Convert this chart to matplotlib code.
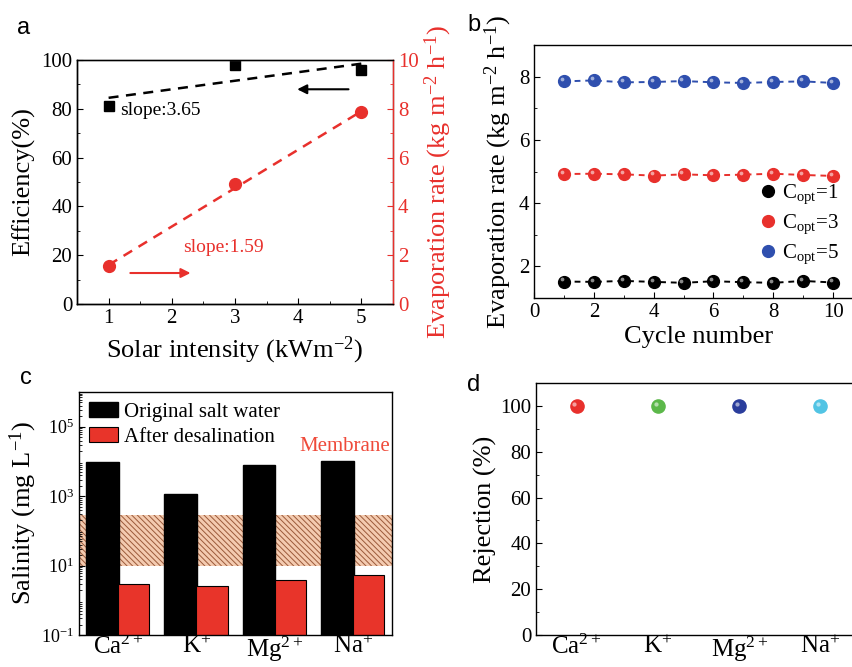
import matplotlib
matplotlib.use("Agg")
import matplotlib.pyplot as plt
import matplotlib.transforms as mtransforms
from matplotlib.lines import Line2D
import numpy as np

plt.rcParams.update({
    "font.family": ["Liberation Serif", "DejaVu Serif"],
    "mathtext.fontset": "custom",
    "mathtext.rm": "Liberation Serif",
    "mathtext.it": "Liberation Serif:italic",
    "mathtext.bf": "Liberation Serif:bold",
    "xtick.direction": "in", "ytick.direction": "in",
    "axes.linewidth": 1.0,
    "hatch.linewidth": 0.7,
})

# ---------------- data
solar = [1, 3, 5]
efficiency = [81, 98, 96]
evap = [1.55, 4.9, 7.85]
eff_fit = [84.5, 98.5]           # dashed fit ends, slope 3.65
evap_fit = [1.6, 7.9]            # dashed fit ends, slope 1.59

cycles = list(range(1, 11))
evap_c1 = [1.52, 1.51, 1.54, 1.51, 1.48, 1.53, 1.50, 1.48, 1.54, 1.49]
evap_c3 = [4.92, 4.93, 4.91, 4.87, 4.91, 4.88, 4.90, 4.93, 4.89, 4.86]
evap_c5 = [7.85, 7.88, 7.82, 7.83, 7.86, 7.82, 7.80, 7.83, 7.85, 7.80]

ions = ["Ca$^{2+}$", "K$^{+}$", "Mg$^{2+}$", "Na$^{+}$"]
original = [9800, 1150, 8000, 10500]
desalinated = [3.0, 2.5, 3.9, 5.5]
membrane_band = [10, 280]

rejection = [100, 100, 100, 100]
ion_colors = ["#e8302c", "#5cb84a", "#2a3d9c", "#52c4e4"]

RED = "#e8302c"
W, H = 853, 667
fig = plt.figure(figsize=(W / 100, H / 100), dpi=100)


def px_axes(left, right, top, bottom):
    return fig.add_axes([left / W, 1 - bottom / H, (right - left) / W, (bottom - top) / H])


def sphere(ax, x, y, color, ms, zorder=3):
    ax.plot(x, y, "o", color=color, ms=ms, mec=color, zorder=zorder, linestyle="none")
    tr = mtransforms.offset_copy(ax.transData, fig=fig, x=-ms * 0.18, y=ms * 0.18, units="points")
    ax.plot(x, y, "o", color="white", alpha=0.55, ms=ms * 0.32, mew=0, transform=tr,
            zorder=zorder + 1, linestyle="none")


def panel_label(x, y, s):
    fig.text(x / W, 1 - y / H, s, family="Liberation Sans", fontsize=17, va="center", ha="left")


# ---------------- (a)
ax = px_axes(77, 393, 60, 304)
for sp in ax.spines.values():
    sp.set_color("#555555")
ax.spines["left"].set_color("black"); ax.spines["bottom"].set_color("black")
ax.plot([1, 5], eff_fit, "--", color="black", lw=1.8, dashes=(4, 3))
ax.plot(solar, efficiency, "s", color="black", ms=7.5)
ax.set_xlim(0.5, 5.5); ax.set_ylim(0, 100)
ax.set_xticks([1, 2, 3, 4, 5]); ax.set_xticks(np.arange(1.5, 5.5, 1), minor=True)
ax.set_yticks(range(0, 101, 20)); ax.set_yticks(range(10, 100, 20), minor=True)
ax.tick_params(labelsize=15, length=4, top=False, right=False)
ax.tick_params(which="minor", length=2.5)
ax.set_ylabel("Efficiency(%)", fontsize=19, labelpad=4)
ax.set_xlabel("Solar intensity (kWm$^{-2}$)", fontsize=19, labelpad=5)
ax.annotate("", xy=(3.94, 88), xytext=(4.84, 88),
            arrowprops=dict(arrowstyle="-|>", color="black", lw=1.5, mutation_scale=14))
ax.text(1.18, 79.5, "slope:3.65", fontsize=14, va="center")
ax.text(2.18, 23, "slope:1.59", fontsize=14, va="center", color=RED)

ax2 = ax.twinx()
ax2.plot([1, 5], evap_fit, "--", color=RED, lw=1.8, dashes=(4, 3))
ax2.plot(solar, evap, "o", color=RED, ms=8.5)
ax2.set_ylim(0, 10)
ax2.set_yticks(range(0, 11, 2)); ax2.set_yticks(range(1, 10, 2), minor=True)
ax2.spines["right"].set_color(RED)
ax2.tick_params(axis="y", colors=RED, labelsize=15, length=4, direction="in")
ax2.tick_params(axis="y", which="minor", length=2.5, direction="in", colors=RED)
ax2.set_ylabel("Evaporation rate (kg m$^{-2}$ h$^{-1}$)", fontsize=19, color=RED, labelpad=3)
ax.annotate("", xy=(2.34, 12.7), xytext=(1.3, 12.7),
            arrowprops=dict(arrowstyle="-|>", color=RED, lw=1.5, mutation_scale=14))
panel_label(17, 28, "a")

# ---------------- (b)
ax = px_axes(534, 863, 45, 298)
for vals, col in ((evap_c1, "black"), (evap_c3, RED), (evap_c5, "#2f4fae")):
    ax.plot(cycles, vals, "--", color=col, lw=1.4, dashes=(3, 2.5), zorder=2)
    sphere(ax, cycles, vals, col, 8.5)
ax.set_xlim(0, 11); ax.set_ylim(1, 9)
ax.set_xticks(range(0, 11, 2)); ax.set_xticks(range(1, 11, 2), minor=True)
ax.set_yticks([2, 4, 6, 8]); ax.set_yticks([3, 5, 7], minor=True)
ax.tick_params(labelsize=15, length=4)
ax.tick_params(which="minor", length=2.5)
ax.set_xlabel("Cycle number", fontsize=19, labelpad=3)
ax.set_ylabel("Evaporation rate (kg m$^{-2}$ h$^{-1}$)", fontsize=19, labelpad=3)
handles = [Line2D([], [], marker="o", ls="none", color=c, ms=8.5)
           for c in ("black", RED, "#2f4fae")]
ax.legend(handles, ["C$_{\\rm opt}$=1", "C$_{\\rm opt}$=3", "C$_{\\rm opt}$=5"],
          loc="upper left", bbox_to_anchor=(0.675, 0.455), frameon=False, fontsize=15,
          handletextpad=0.15, labelspacing=0.3, borderpad=0, borderaxespad=0,
          handlelength=1.1)
panel_label(467, 25, "b")

# ---------------- (c)
ax = px_axes(79, 392, 392, 635)
x = np.arange(1, 5)
ax.fill_between([0.5, 4.5], membrane_band[0], membrane_band[1], facecolor="#f4cbb0",
                edgecolor="#9b5a3a", hatch="\\" * 6, lw=0, zorder=1)
ax.bar(x - 0.2, original, 0.42, color="black", edgecolor="black", zorder=2,
       label="Original salt water")
ax.bar(x + 0.2, desalinated, 0.4, color="#e8342a", edgecolor="black", lw=0.8, zorder=2,
       label="After desalination")
ax.set_yscale("log")
ax.set_ylim(0.1, 1e6); ax.set_xlim(0.5, 4.5)
ax.set_yticks([1e-1, 1e1, 1e3, 1e5])
ax.set_yticklabels(["10$^{-1}$", "10$^{1}$", "10$^{3}$", "10$^{5}$"])
ax.set_xticks(x); ax.set_xticklabels(ions)
ax.tick_params(axis="x", labelsize=18, length=0, pad=0)
ax.tick_params(axis="y", labelsize=13, length=4)
ax.tick_params(axis="y", which="minor", length=2)
ax.set_ylabel("Salinity (mg L$^{-1}$)", fontsize=19, labelpad=2)
ax.text(3.9, 10 ** 4.42, "Membrane", color="#ef4a3a", fontsize=15, ha="center", va="center")
ax.legend(loc="upper left", frameon=False, fontsize=15, handlelength=1.35, handleheight=0.7,
          handletextpad=0.3, labelspacing=0.25, borderaxespad=0.2, borderpad=0.3)
panel_label(20, 378, "c")

# ---------------- (d)
ax = px_axes(536, 861, 383, 635)
for xi, r, c in zip(x, rejection, ion_colors):
    sphere(ax, [xi], [r], c, 9.5)
ax.set_xlim(0.5, 4.5); ax.set_ylim(0, 110)
ax.set_yticks(range(0, 101, 20)); ax.set_yticks(range(10, 101, 20), minor=True)
ax.set_xticks(x); ax.set_xticklabels(ions)
ax.tick_params(axis="x", labelsize=18, length=0, pad=0)
ax.tick_params(axis="y", labelsize=15, length=4)
ax.tick_params(axis="y", which="minor", length=2.5)
ax.set_ylabel("Rejection (%)", fontsize=19, labelpad=2)
panel_label(467, 385, "d")

fig.savefig("out.png", dpi=100)
